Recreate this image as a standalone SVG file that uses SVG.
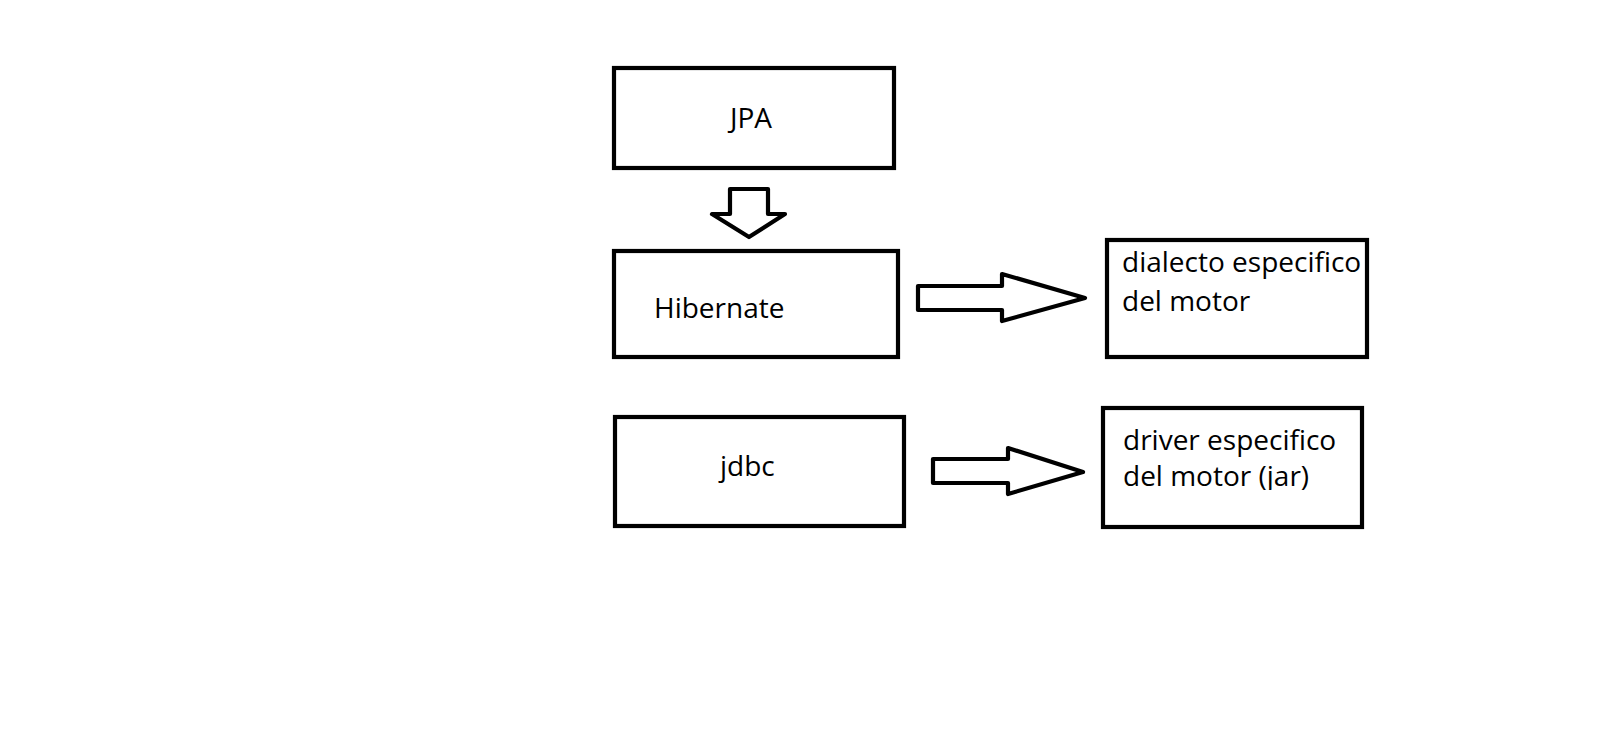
<svg xmlns="http://www.w3.org/2000/svg" width="1618" height="743" viewBox="0 0 1618 743">
<style>
.box{fill:#fff;stroke:#000;stroke-width:4.2}
.arr{fill:#fff;stroke:#000;stroke-width:4.2;stroke-linejoin:round}
.t{font-family:"Open Sans","Noto Sans",sans-serif;font-size:28px;fill:#000}
</style>
<defs>
<clipPath id="c1"><rect x="1110" y="243" width="254" height="112"/></clipPath>
<clipPath id="c2"><rect x="1106" y="410" width="254" height="80"/></clipPath>
</defs>
<rect width="1618" height="743" fill="#fff"/>
<g id="jpa"><rect class="box" x="614" y="68" width="280" height="100"/><text class="t" x="730" y="128">JPA</text></g>
<g id="hibernate"><rect class="box" x="614" y="251" width="284" height="106"/><text class="t" x="654" y="318">Hibernate</text></g>
<g id="dialecto"><rect class="box" x="1107" y="240" width="260" height="117"/><g clip-path="url(#c1)"><text class="t" x="1122" y="272">dialecto especifico</text><text class="t" x="1122" y="311">del motor</text></g></g>
<g id="jdbc"><rect class="box" x="615" y="417" width="289" height="109"/><text class="t" x="720" y="476">jdbc</text></g>
<g id="driver"><rect class="box" x="1103" y="408" width="259" height="119"/><g clip-path="url(#c2)"><text class="t" x="1123" y="450">driver especifico</text><text class="t" x="1123" y="486">del motor (jar)</text></g></g>
<g id="connectors">
<polygon class="arr" points="730,189 768,189 768,214 785,214 749,237 712,214 730,214"/>
<polygon class="arr" points="918,286 1002,286 1002,274 1085,298 1002,321 1002,310 918,310"/>
<polygon class="arr" points="933,459 1008,459 1008,448 1083,472 1008,494 1008,483 933,483"/>
</g>
</svg>
